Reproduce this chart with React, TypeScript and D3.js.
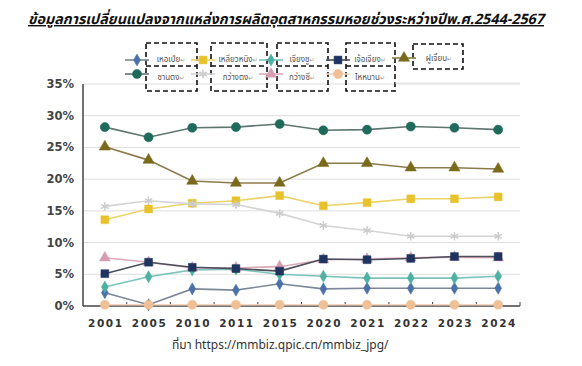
import * as d3 from 'd3';

const years = ['2001', '2005', '2010', '2011', '2015', '2020', '2021', '2022', '2023', '2024'];
const yTicks = [0, 5, 10, 15, 20, 25, 30, 35];

const hebei     = [2.1, 0.2, 2.7, 2.5, 3.5, 2.7, 2.8, 2.8, 2.8, 2.8];
const shandong  = [28.2, 26.6, 28.1, 28.2, 28.7, 27.7, 27.8, 28.3, 28.1, 27.8];
const liaoning  = [13.6, 15.3, 16.2, 16.6, 17.4, 15.8, 16.3, 16.9, 16.9, 17.2];
const guangdong = [15.7, 16.6, 16.1, 16.0, 14.6, 12.7, 11.9, 11.0, 11.0, 11.0];
const jiangsu   = [3.0, 4.6, 5.7, 5.8, 5.0, 4.7, 4.4, 4.4, 4.4, 4.7];
const guangxi   = [7.6, 6.9, 6.0, 6.0, 6.2, 7.3, 7.4, 7.6, 7.7, 7.6];
const zhejiang  = [5.1, 6.9, 6.1, 5.9, 5.5, 7.4, 7.3, 7.5, 7.8, 7.8];
const hainan    = [0.2, 0.2, 0.2, 0.2, 0.2, 0.2, 0.2, 0.2, 0.2, 0.2];
const fujian    = [25.1, 23.0, 19.7, 19.4, 19.4, 22.5, 22.5, 21.8, 21.8, 21.6];

type Series = { name: string; values: number[]; line: string; fill: string; symbol: any; size: number; stroke?: boolean };

const series: Series[] = [
  { name: 'เหอเป่ย', values: hebei, line: '#7d8796', fill: '#4a72a8', symbol: d3.symbolDiamond, size: 42 },
  { name: 'ซานตง', values: shandong, line: '#5f7570', fill: '#1e6b5b', symbol: d3.symbolCircle, size: 66 },
  { name: 'เหลียวหนิง', values: liaoning, line: '#ecd36a', fill: '#e8c22c', symbol: d3.symbolSquare, size: 62 },
  { name: 'กว่างตง', values: guangdong, line: '#d4d4d4', fill: '#cccccc', symbol: d3.symbolAsterisk, size: 50, stroke: true },
  { name: 'เจียงซู', values: jiangsu, line: '#7cc4b9', fill: '#4db0a3', symbol: d3.symbolDiamond, size: 42 },
  { name: 'กว่างซี', values: guangxi, line: '#dcaab9', fill: '#d59db2', symbol: d3.symbolTriangle, size: 52 },
  { name: 'เจ้อเจียง', values: zhejiang, line: '#4a4f5a', fill: '#1f3560', symbol: d3.symbolSquare, size: 62 },
  { name: 'ไหหนาน', values: hainan, line: '#f3d6bd', fill: '#efbf95', symbol: d3.symbolCircle, size: 66 },
  { name: 'ฝูเจี้ยน', values: fujian, line: '#8a7c4a', fill: '#7a6a1c', symbol: d3.symbolTriangle, size: 55 },
];

// legend placement: [markerX, markerY, labelX, labelY]
const legendPos: [number, number, number, number][] = [
  [137, 60, 171, 59], [137, 74, 171, 77],
  [203, 60, 238, 59], [203, 74, 238, 77],
  [271, 60, 302, 59], [271, 74, 302, 77],
  [338, 60, 370, 59], [338, 74, 370, 77],
  [404, 58, 439, 58],
];
const legendBoxes = [[146, 197], [211, 267], [277, 328], [346, 395]];

const W = 582, H = 366;
const thai = '"Noto Sans Thai", "Tahoma", "DejaVu Sans", sans-serif';

export default function App() {
  const x = d3.scaleBand<string>().domain(years).range([83, 520]);
  const y = d3.scaleLinear().domain([0, 35]).range([306, 84]);
  const cx = (i: number) => (x(years[i]) ?? 0) + x.bandwidth() / 2;

  const line = (vals: number[]) =>
    d3.line<number>().x((_, i) => cx(i)).y((d) => y(d))(vals) ?? '';

  const marker = (s: Series, px: number, py: number, key: any) => {
    const d = d3.symbol(s.symbol, s.size)() ?? '';
    return s.stroke
      ? <path key={key} d={d} transform={`translate(${px},${py})`} fill="none" stroke={s.fill} strokeWidth={1.5} />
      : <path key={key} d={d} transform={`translate(${px},${py})`} fill={s.fill} stroke={s.fill} strokeWidth={0.5} />;
  };

  return (
    <svg width={W} height={H} style={{ position: 'absolute', left: 0, top: 0, background: '#fff' }}>
      <text x={286} y={24} textAnchor="middle" fontFamily={thai} fontSize={14.3} fontWeight="bold"
        fontStyle="italic" textDecoration="underline" fill="#111">
        ข้อมูลการเปลี่ยนแปลงจากแหล่งการผลิตอุตสาหกรรมหอยช่วงระหว่างปีพ.ศ.2544-2567
      </text>

      {/* grid */}
      {yTicks.filter((t) => t > 0).map((t) => (
        <line key={t} x1={83} x2={520} y1={y(t)} y2={y(t)} stroke="#dedede" strokeWidth={1} />
      ))}

      {/* axes */}
      <line x1={83} x2={83} y1={84} y2={306} stroke="#444" strokeWidth={1.5} />
      <line x1={83} x2={520} y1={306} y2={306} stroke="#444" strokeWidth={1.5} />
      {years.map((yr) => (
        <line key={yr} x1={(x(yr) ?? 0) + x.bandwidth()} x2={(x(yr) ?? 0) + x.bandwidth()} y1={302} y2={306} stroke="#444" />
      ))}
      {yTicks.map((t) => (
        <text key={t} x={74} y={y(t) + 4} textAnchor="end" fontFamily="DejaVu Sans, sans-serif" fontSize={11.5}
          fontWeight={600} fill="#444">{t}%</text>
      ))}
      {years.map((yr, i) => (
        <text key={yr} x={cx(i) + 1} y={327} textAnchor="middle" fontFamily="DejaVu Sans, sans-serif" fontSize={10.5}
          fontWeight="bold" letterSpacing={1.6} fill="#333">{yr}</text>
      ))}

      {/* legend */}
      {legendBoxes.map(([a, b], i) => (
        <g key={i} fill="none" stroke="#111" strokeWidth={1.6} strokeDasharray="5,3">
          <rect x={a} y={43} width={b - a} height={48} />
          <line x1={a} x2={b} y1={66} y2={66} />
        </g>
      ))}
      <rect x={413} y={44} width={50} height={25} fill="none" stroke="#111" strokeWidth={1.6} strokeDasharray="5,3" />
      <line x1={395} x2={520} y1={83} y2={83} stroke="#e4e4e4" />
      {series.map((s, i) => {
        const [mx, my, lx, ly] = legendPos[i];
        return (
          <g key={s.name}>
            <line x1={mx - 12} x2={mx + 12} y1={my} y2={my} stroke={s.line} strokeWidth={1.6} />
            {marker(s, mx, my, 'm')}
            <text x={lx} y={ly + 3} textAnchor="middle" fontFamily={thai} fontSize={8} fill="#555">
              {s.name}<tspan fontSize={6} fill="#999">↵</tspan>
            </text>
          </g>
        );
      })}

      {/* series */}
      {series.map((s) => (
        <g key={s.name}>
          <path d={line(s.values)} fill="none" stroke={s.line} strokeWidth={1.6} />
          {s.values.map((v, i) => marker(s, cx(i), y(v), i))}
        </g>
      ))}

      <text x={172} y={349} fontFamily={thai} fontSize={12} fill="#333">ที่มา https://mmbiz.qpic.cn/mmbiz_jpg/</text>
    </svg>
  );
}
